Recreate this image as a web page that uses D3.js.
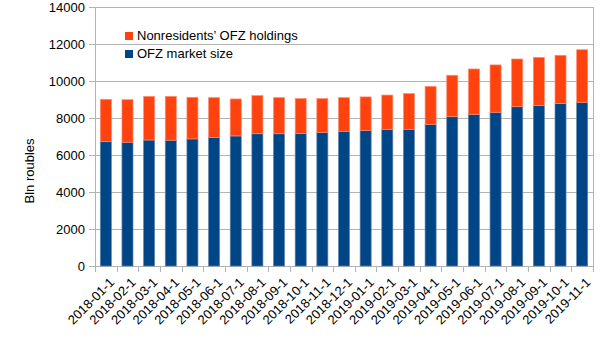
<!DOCTYPE html>
<html>
<head>
<meta charset="utf-8">
<script src="https://cdn.jsdelivr.net/npm/d3@7"></script>
<style>
  html, body { margin: 0; padding: 0; background: #fff; }
  svg { display: block; font-family: "Liberation Sans", Arial, sans-serif; }
</style>
</head>
<body>
<svg id="chart" width="605" height="340"></svg>
<script>
const categories = ["2018-01-1","2018-02-1","2018-03-1","2018-04-1","2018-05-1","2018-06-1","2018-07-1","2018-08-1","2018-09-1","2018-10-1","2018-11-1","2018-12-1","2019-01-1","2019-02-1","2019-03-1","2019-04-1","2019-05-1","2019-06-1","2019-07-1","2019-08-1","2019-09-1","2019-10-1","2019-11-1"];
const marketSize = [6720, 6690, 6810, 6800, 6870, 6940, 7030, 7150, 7150, 7170, 7220, 7280, 7330, 7390, 7390, 7660, 8070, 8200, 8310, 8610, 8680, 8790, 8850];
const nonresHoldings = [2290, 2300, 2360, 2370, 2250, 2160, 2000, 2060, 1950, 1880, 1830, 1820, 1810, 1850, 1930, 2050, 2240, 2450, 2560, 2580, 2600, 2600, 2840];
const yTicks = [0, 2000, 4000, 6000, 8000, 10000, 12000, 14000];
const seriesNames = ["Nonresidents\u2019 OFZ holdings", "OFZ market size"];
const seriesColors = ["#ff420e", "#004586"];
const yTitle = "Bln roubles";

const svg = d3.select("#chart");
const pLeft = 95, pRight = 593, pTop = 7, pBottom = 266;

const x = d3.scaleBand().domain(categories).range([pLeft, pRight]).paddingInner(0.49).paddingOuter(0.245);
const y = d3.scaleLinear().domain([0, 14000]).range([pBottom, pTop]);

// gridlines
svg.append("g").selectAll("line").data(yTicks).join("line")
  .attr("x1", pLeft - 6).attr("x2", pRight)
  .attr("y1", d => y(d) + 0.5).attr("y2", d => y(d) + 0.5)
  .attr("stroke", "#b3b3b3").attr("stroke-width", 1);

// right border & left axis
svg.append("line").attr("x1", pRight + 0.5).attr("x2", pRight + 0.5).attr("y1", pTop).attr("y2", pBottom + 1)
  .attr("stroke", "#b3b3b3");
svg.append("line").attr("x1", pLeft + 0.5).attr("x2", pLeft + 0.5).attr("y1", pTop).attr("y2", pBottom + 1)
  .attr("stroke", "#b3b3b3");

// x ticks at category boundaries
const step = x.step();
const bounds = d3.range(categories.length + 1).map(i => pLeft + i * step);
svg.append("g").selectAll("line").data(bounds).join("line")
  .attr("x1", d => Math.round(d) + 0.5).attr("x2", d => Math.round(d) + 0.5)
  .attr("y1", pBottom).attr("y2", pBottom + 6)
  .attr("stroke", "#b3b3b3");

// stacked bars
const data = categories.map((c, i) => ({ cat: c, base: marketSize[i], upper: nonresHoldings[i] }));
const stack = d3.stack().keys(["base", "upper"])(data);
const colorsByKey = { base: seriesColors[1], upper: seriesColors[0] };
const strokeByKey = { base: "#5f86ad", upper: "#ff8f70" };
svg.append("g").selectAll("g").data(stack).join("g")
  .attr("fill", d => colorsByKey[d.key])
  .attr("stroke", d => strokeByKey[d.key])
  .attr("stroke-width", 0.7)
  .selectAll("rect").data(d => d).join("rect")
  .attr("x", d => x(d.data.cat))
  .attr("width", x.bandwidth())
  .attr("y", d => y(d[1]))
  .attr("height", d => y(d[0]) - y(d[1]));

// y labels
svg.append("g").selectAll("text").data(yTicks).join("text")
  .attr("x", 85).attr("y", d => y(d) + 5)
  .attr("text-anchor", "end").attr("font-size", 13).attr("fill", "#000")
  .text(d => d);

// x labels
svg.append("g").selectAll("text").data(categories).join("text")
  .attr("transform", d => `translate(${x(d) + x.bandwidth() / 2 + 6},${pBottom + 14}) rotate(-45)`)
  .attr("text-anchor", "end").attr("font-size", 13).attr("fill", "#000")
  .attr("dy", "0.35em")
  .text(d => d);

// y title
svg.append("text")
  .attr("transform", "translate(34,171) rotate(-90)")
  .attr("text-anchor", "middle").attr("font-size", 13).attr("fill", "#000")
  .text(yTitle);

// legend
const legend = svg.append("g");
seriesNames.forEach((name, i) => {
  legend.append("rect").attr("x", 125).attr("y", 32 + i * 18).attr("width", 8).attr("height", 8)
    .attr("fill", seriesColors[i]);
  legend.append("text").attr("x", 137).attr("y", 40 + i * 18).attr("font-size", 13).attr("fill", "#000")
    .text(name);
});
</script>
</body>
</html>
